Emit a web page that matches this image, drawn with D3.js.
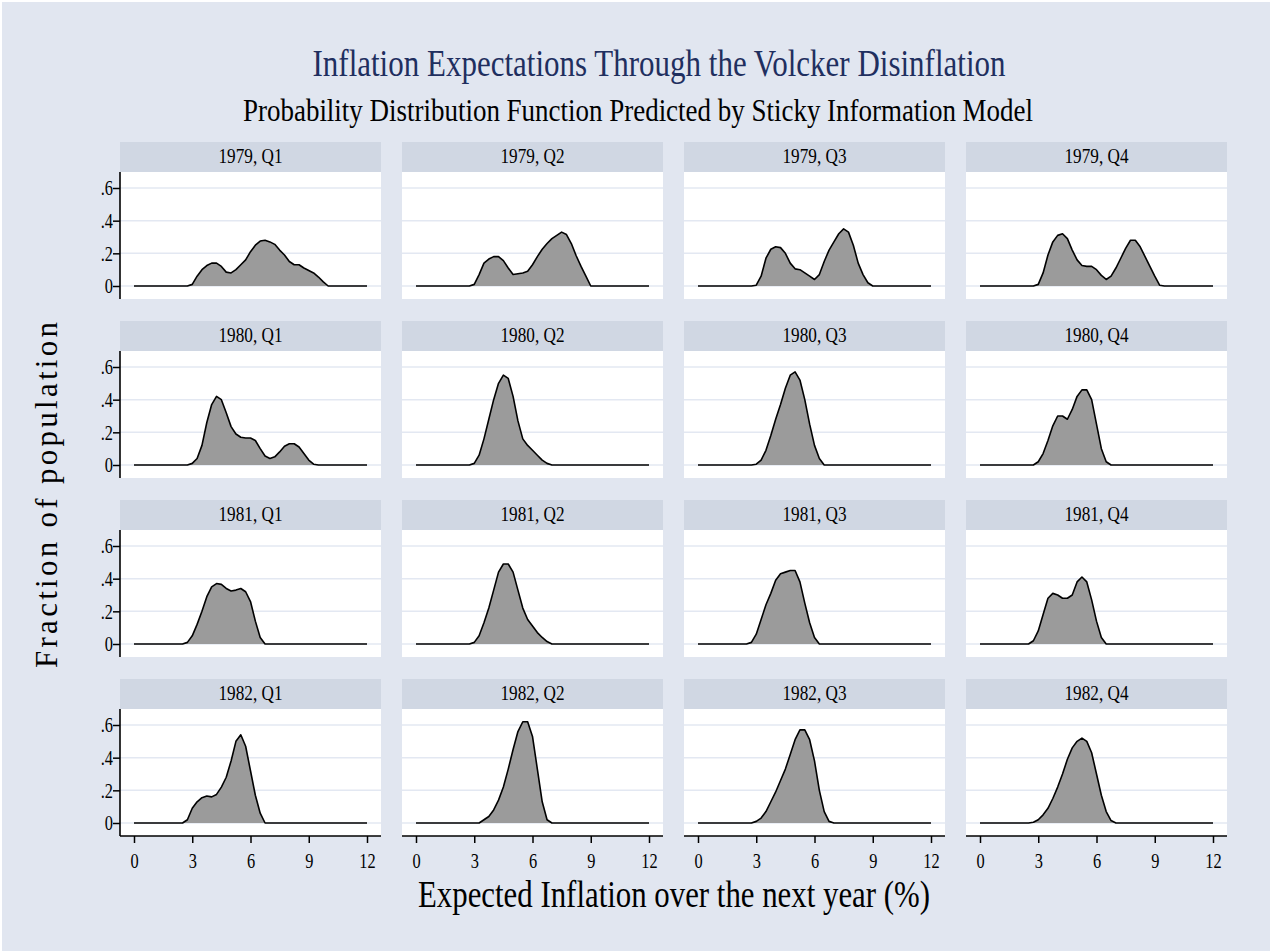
<!DOCTYPE html>
<html>
<head>
<meta charset="utf-8">
<script src="https://cdn.jsdelivr.net/npm/d3@7/dist/d3.min.js"></script>
<style>
  body { margin: 0; background: #fff; }
  text { font-family: "Liberation Serif", "Times New Roman", serif; }
</style>
</head>
<body>
<div id="chart"></div>
<script>

var width = 1274,
    height = 951

// panel titles, row by row
var quarters = ["1979, Q1", "1979, Q2", "1979, Q3", "1979, Q4",
                "1980, Q1", "1980, Q2", "1980, Q3", "1980, Q4",
                "1981, Q1", "1981, Q2", "1981, Q3", "1981, Q4",
                "1982, Q1", "1982, Q2", "1982, Q3", "1982, Q4"]

var xGrid = [2.5, 2.75, 3, 3.25, 3.5, 3.75, 4, 4.25, 4.5, 4.75, 5, 5.25, 5.5, 5.75, 6, 6.25,
             6.5, 6.75, 7, 7.25, 7.5, 7.75, 8, 8.25, 8.5, 8.75, 9, 9.25, 9.5, 9.75, 10]

var xTicks = [0, 3, 6, 9, 12]
var yTicks = [0, 0.2, 0.4, 0.6]
var yTickLabels = ["0", ".2", ".4", ".6"]

// fraction of population, one list per quarter
var d1979q1 = [0, 0, 0.01, 0.06, 0.10, 0.125, 0.14, 0.14, 0.12, 0.085, 0.08, 0.10, 0.13, 0.16, 0.21, 0.25,
               0.275, 0.28, 0.27, 0.255, 0.22, 0.19, 0.15, 0.13, 0.13, 0.11, 0.095, 0.08, 0.055, 0.025, 0]
var d1979q2 = [0, 0, 0.01, 0.07, 0.14, 0.165, 0.18, 0.18, 0.155, 0.11, 0.07, 0.075, 0.08, 0.09, 0.13, 0.18,
               0.225, 0.26, 0.29, 0.31, 0.33, 0.315, 0.26, 0.185, 0.12, 0.06, 0, 0, 0, 0, 0]
var d1979q3 = [0, 0, 0.005, 0.06, 0.17, 0.225, 0.24, 0.235, 0.2, 0.14, 0.105, 0.1, 0.08, 0.06, 0.04, 0.07,
               0.15, 0.22, 0.27, 0.32, 0.35, 0.33, 0.25, 0.14, 0.07, 0.02, 0, 0, 0, 0, 0]
var d1979q4 = [0, 0, 0.01, 0.08, 0.19, 0.27, 0.31, 0.32, 0.29, 0.22, 0.16, 0.125, 0.12, 0.12, 0.1, 0.065,
               0.04, 0.06, 0.11, 0.17, 0.23, 0.28, 0.28, 0.24, 0.18, 0.12, 0.06, 0.005, 0, 0, 0]
var d1980q1 = [0, 0, 0.01, 0.04, 0.12, 0.26, 0.37, 0.42, 0.4, 0.32, 0.235, 0.19, 0.17, 0.165, 0.165, 0.15,
               0.1, 0.055, 0.04, 0.05, 0.08, 0.115, 0.13, 0.13, 0.11, 0.07, 0.03, 0.005, 0, 0, 0]
var d1980q2 = [0, 0, 0.01, 0.06, 0.16, 0.28, 0.4, 0.5, 0.55, 0.53, 0.42, 0.27, 0.16, 0.12, 0.09, 0.06,
               0.03, 0.01, 0, 0, 0, 0, 0, 0, 0, 0, 0, 0, 0, 0, 0]
var d1980q3 = [0, 0, 0.005, 0.03, 0.09, 0.18, 0.28, 0.37, 0.47, 0.55, 0.57, 0.52, 0.4, 0.25, 0.12, 0.04,
               0, 0, 0, 0, 0, 0, 0, 0, 0, 0, 0, 0, 0, 0, 0]
var d1980q4 = [0, 0, 0.02, 0.07, 0.15, 0.24, 0.3, 0.3, 0.28, 0.34, 0.42, 0.46, 0.46, 0.4, 0.25, 0.1,
               0.02, 0, 0, 0, 0, 0, 0, 0, 0, 0, 0, 0, 0, 0, 0]
var d1981q1 = [0, 0.01, 0.05, 0.12, 0.2, 0.29, 0.35, 0.37, 0.365, 0.34, 0.325, 0.33, 0.34, 0.32, 0.26, 0.14,
               0.04, 0, 0, 0, 0, 0, 0, 0, 0, 0, 0, 0, 0, 0, 0]
var d1981q2 = [0, 0, 0.01, 0.05, 0.13, 0.22, 0.33, 0.44, 0.49, 0.49, 0.44, 0.33, 0.22, 0.15, 0.11, 0.07,
               0.04, 0.015, 0, 0, 0, 0, 0, 0, 0, 0, 0, 0, 0, 0, 0]
var d1981q3 = [0, 0.01, 0.06, 0.15, 0.24, 0.31, 0.39, 0.43, 0.44, 0.45, 0.45, 0.38, 0.25, 0.13, 0.04, 0,
               0, 0, 0, 0, 0, 0, 0, 0, 0, 0, 0, 0, 0, 0, 0]
var d1981q4 = [0, 0.02, 0.08, 0.18, 0.28, 0.31, 0.3, 0.28, 0.28, 0.3, 0.38, 0.41, 0.38, 0.27, 0.14, 0.04,
               0, 0, 0, 0, 0, 0, 0, 0, 0, 0, 0, 0, 0, 0, 0]
var d1982q1 = [0, 0.02, 0.09, 0.13, 0.155, 0.165, 0.16, 0.175, 0.22, 0.28, 0.38, 0.5, 0.54, 0.47, 0.32, 0.17,
               0.06, 0, 0, 0, 0, 0, 0, 0, 0, 0, 0, 0, 0, 0, 0]
var d1982q2 = [0, 0, 0, 0, 0.02, 0.04, 0.08, 0.14, 0.22, 0.33, 0.45, 0.56, 0.62, 0.62, 0.53, 0.33,
               0.13, 0.02, 0, 0, 0, 0, 0, 0, 0, 0, 0, 0, 0, 0, 0]
var d1982q3 = [0, 0, 0.01, 0.03, 0.07, 0.13, 0.19, 0.26, 0.33, 0.42, 0.51, 0.57, 0.57, 0.51, 0.38, 0.2,
               0.07, 0.01, 0, 0, 0, 0, 0, 0, 0, 0, 0, 0, 0, 0, 0]
var d1982q4 = [0, 0.005, 0.02, 0.05, 0.09, 0.15, 0.22, 0.3, 0.39, 0.46, 0.5, 0.52, 0.5, 0.43, 0.3, 0.17,
               0.07, 0.015, 0, 0, 0, 0, 0, 0, 0, 0, 0, 0, 0, 0, 0]

var densities = [d1979q1, d1979q2, d1979q3, d1979q4,
                 d1980q1, d1980q2, d1980q3, d1980q4,
                 d1981q1, d1981q2, d1981q3, d1981q4,
                 d1982q1, d1982q2, d1982q3, d1982q4]

// layout
var left = 120, top0 = 172
    colStep = 282, rowStep = 179
    pw = 261, ph = 127, stripH = 30

var svg = d3.select("#chart")
  .append("svg")
    .attr("width", width)
    .attr("height", height)

svg.append("rect")
    .attr("x", 2).attr("y", 2)
    .attr("width", 1268).attr("height", height - 2)
    .attr("fill", "#e1e6f0")

// titles
svg.append("text")
    .attr("x", 659).attr("y", 76)
    .attr("text-anchor", "middle")
    .attr("font-size", 38)
    .attr("fill", "#1f2f5f")
    .attr("textLength", 693).attr("lengthAdjust", "spacingAndGlyphs")
    .text("Inflation Expectations Through the Volcker Disinflation")

svg.append("text")
    .attr("x", 638).attr("y", 121)
    .attr("text-anchor", "middle")
    .attr("font-size", 31)
    .attr("fill", "#000")
    .attr("textLength", 790).attr("lengthAdjust", "spacingAndGlyphs")
    .text("Probability Distribution Function Predicted by Sticky Information Model")

svg.append("text")
    .attr("x", 674).attr("y", 907)
    .attr("text-anchor", "middle")
    .attr("font-size", 38)
    .attr("textLength", 512).attr("lengthAdjust", "spacingAndGlyphs")
    .text("Expected Inflation over the next year (%)")

svg.append("text")
    .attr("transform", "translate(57,495) rotate(-90)")
    .attr("text-anchor", "middle")
    .attr("font-size", 31)
    .attr("textLength", 346).attr("lengthAdjust", "spacing")
    .text("Fraction of population")

var x = d3.scaleLinear().domain([0, 12]).range([14, 247])
var y = d3.scaleLinear().domain([0, 0.6]).range([114, 16])

var area = d3.area()
    .x(function(d) { return x(d[0]) })
    .y0(y(0))
    .y1(function(d) { return y(d[1]) })

var line = d3.line()
    .x(function(d) { return x(d[0]) })
    .y(function(d) { return y(d[1]) })

quarters.forEach(function(q, i) {
  var r = Math.floor(i / 4), c = i % 4
  var g = svg.append("g")
      .attr("transform", "translate(" + (left + c * colStep) + "," + (top0 + r * rowStep) + ")")

  g.append("rect")
      .attr("y", -stripH).attr("width", pw).attr("height", stripH)
      .attr("fill", "#d0d7e3")
  g.append("text")
      .attr("x", pw / 2).attr("y", -9)
      .attr("text-anchor", "middle")
      .attr("font-size", 20)
      .attr("textLength", 64).attr("lengthAdjust", "spacingAndGlyphs")
      .text(q)

  g.append("rect")
      .attr("width", pw).attr("height", ph)
      .attr("fill", "#fff")

  g.selectAll(".grid")
    .data(yTicks)
    .enter()
    .append("line")
      .attr("x1", 0).attr("x2", pw)
      .attr("y1", function(d) { return y(d) })
      .attr("y2", function(d) { return y(d) })
      .attr("stroke", "#e3e8f2")
      .attr("stroke-width", 1.5)

  var pts = [[0, 0]]
  xGrid.forEach(function(v, k) { pts.push([v, densities[i][k]]) })
  pts.push([12, 0])

  g.append("path")
      .attr("d", area(pts))
      .attr("fill", "#9b9b9b")
  g.append("path")
      .attr("d", line(pts))
      .attr("fill", "none")
      .attr("stroke", "#000")
      .attr("stroke-width", 1.6)
      .attr("stroke-linejoin", "round")

  if (c == 0) {
    var ya = g.append("g")
        .call(d3.axisLeft(y)
          .tickValues(yTicks)
          .tickFormat(function(d, k) { return yTickLabels[k] })
          .tickSize(7)
          .tickPadding(2))
    ya.select(".domain").remove()
    ya.selectAll("line").attr("stroke-width", 1.5)
    ya.selectAll("text")
        .attr("font-size", 21)
        .attr("font-family", "Liberation Serif")
        .attr("transform", "scale(0.78,1)")
    g.append("line")
        .attr("x1", 0).attr("x2", 0).attr("y1", 0).attr("y2", ph)
        .attr("stroke", "#000").attr("stroke-width", 1.6)
  }

  if (r == 3) {
    var xa = g.append("g")
        .attr("transform", "translate(0," + ph + ")")
        .call(d3.axisBottom(x)
          .tickValues(xTicks)
          .tickSize(7)
          .tickPadding(10))
    xa.select(".domain").remove()
    xa.selectAll("line").attr("stroke-width", 1.5)
    xa.selectAll("text")
        .attr("font-size", 21)
        .attr("font-family", "Liberation Serif")
        .attr("transform", "scale(0.78,1)")
    g.append("line")
        .attr("x1", 0).attr("x2", pw).attr("y1", ph).attr("y2", ph)
        .attr("stroke", "#000").attr("stroke-width", 1.6)
  }
})

</script>
</body>
</html>
